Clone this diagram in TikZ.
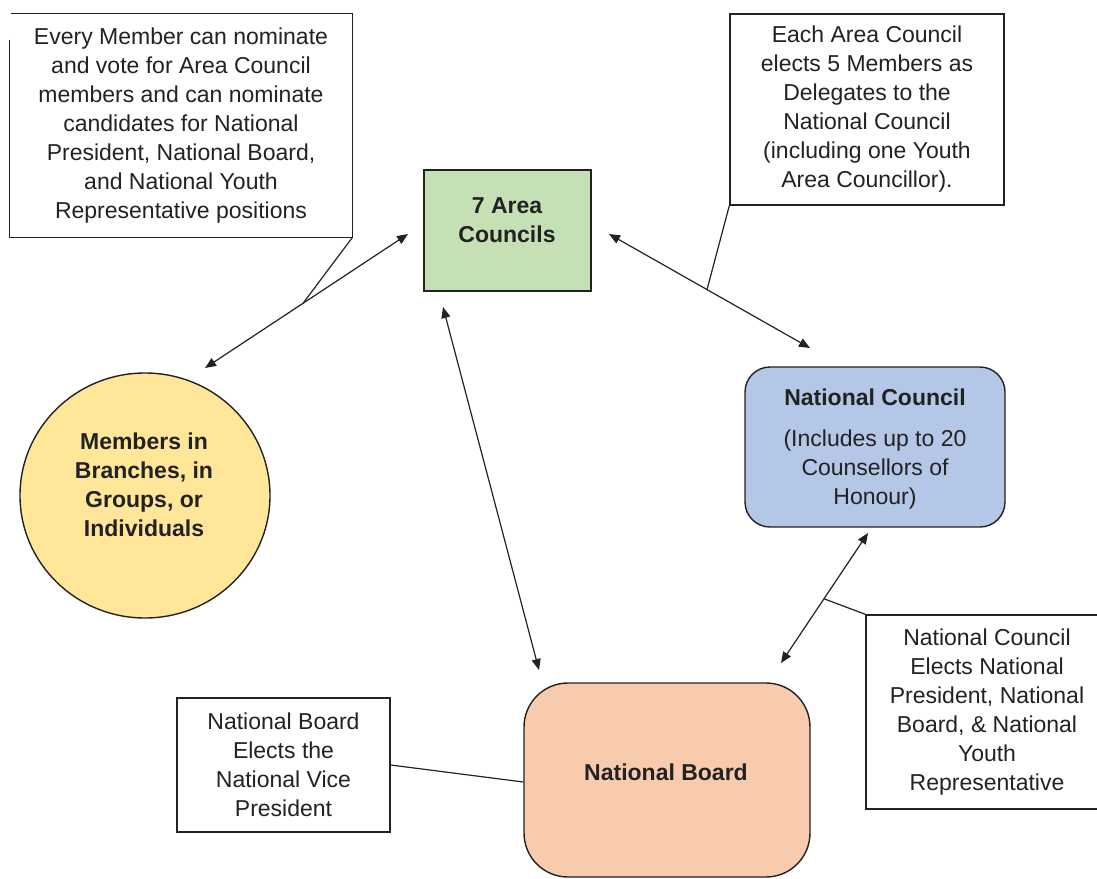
\documentclass[tikz,border=0pt]{standalone}
\usepackage{fontspec}
\setmainfont{Liberation Sans}
\usetikzlibrary{arrows.meta,shapes.geometric}
\definecolor{areagreen}{HTML}{C5E0B4}
\definecolor{ncblue}{HTML}{B4C7E7}
\definecolor{nbpeach}{HTML}{F8CBAD}
\definecolor{memyellow}{HTML}{FFE699}
\definecolor{ink}{HTML}{222222}
\begin{document}
\begin{tikzpicture}[x=0.5pt,y=-0.5pt,
  every node/.style={font=\fontsize{11.5}{14.5}\selectfont, align=center, inner sep=0pt, text=ink},
  note/.style={draw=ink, line width=0.7pt, fill=white, rectangle},
  shapebox/.style={draw=ink, line width=0.7pt},
  bold/.style={font=\fontsize{11.5}{14.5}\selectfont\bfseries},
  conn/.style={draw=ink, line width=0.6pt},
  biarrow/.style={conn, {Triangle[length=5.5pt,width=4.5pt]}-{Triangle[length=5.5pt,width=4.5pt]}}
]
\path[use as bounding box, clip] (0,0) rectangle (1097,878);
\fill[white] (0,0) rectangle (1097,878);

% main shapes
\node[shapebox, fill=areagreen, rectangle, minimum width=83.5pt, minimum height=60.5pt] (area) at (507.5,230.5) {};
\node[bold] (areatxt) at (507,220) {7 Area\\Councils};

\node[shapebox, fill=memyellow, ellipse, minimum width=125pt, minimum height=122.5pt] (mem) at (145,495.5) {};
\node[bold] (memtxt) at (144,485) {Members in\\Branches, in\\Groups, or\\Individuals};

\node[shapebox, fill=ncblue, rectangle, rounded corners=12.5pt, minimum width=130pt, minimum height=80pt] (nc) at (875,447) {};
\node[bold] (nctitle) at (875,397) {National Council};
\node (nctxt) at (875,470) {(Includes up to 20\\Counsellors of\\Honour)};

\node[shapebox, fill=nbpeach, rectangle, rounded corners=22pt, minimum width=143pt, minimum height=97pt] (nb) at (667,780) {};
\node[bold] (nbtxt) at (666,772) {National Board};

% notes
\node[rectangle, minimum width=171pt, minimum height=111.5pt] (tl) at (181,125.5)
  {Every Member can nominate\\and vote for Area Council\\members and can nominate\\candidates for National\\President, National Board,\\and National Youth\\Representative positions};
\draw[draw=ink, line width=0.7pt] ([yshift=-13pt]tl.north west) -- (tl.south west) -- (tl.south east) -- (tl.north east) -- ([xshift=0.5pt]tl.north west);

\node[note, minimum width=137pt, minimum height=95.5pt] (tr) at (867,109.5)
  {Each Area Council\\elects 5 Members as\\Delegates to the\\National Council\\(including one Youth\\Area Councillor).};

\node[note, minimum width=121pt, minimum height=97pt] (br) at (987,712)
  {National Council\\Elects National\\President, National\\Board, \& National\\Youth\\Representative};

\node[note, minimum width=106.5pt, minimum height=67pt] (bl) at (283.5,765)
  {National Board\\Elects the\\National Vice\\President};

% arrow end points
\coordinate (m1) at (205,368);
\coordinate (a1) at (408,234);
\coordinate (a2) at (609,234);
\coordinate (n1) at (810,348);
\coordinate (a3) at (443,307);
\coordinate (b1) at (539,670);
\coordinate (n2) at (868,533);
\coordinate (b2) at (781,663);

\draw[biarrow] (m1) -- coordinate[pos=0.483] (k1) (a1);
\draw[biarrow] (a2) -- coordinate[pos=0.4876] (k2) (n1);
\draw[biarrow] (a3) -- (b1);
\draw[biarrow] (n2) -- coordinate[pos=0.506] (k3) (b2);

% callout lines
\draw[conn] (tl.south east) -- (k1);
\draw[conn] (tr.south west) -- (k2);
\draw[conn] (br.north west) -- (k3);
\draw[conn] (bl.east) -- ([yshift=-1pt]nb.west);
\end{tikzpicture}
\end{document}
